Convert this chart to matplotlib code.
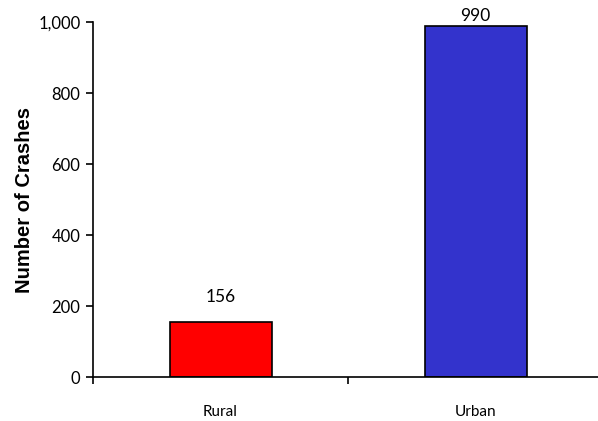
import matplotlib.pyplot as plt
from matplotlib.ticker import FuncFormatter, FixedLocator

categories = ["Rural", "Urban"]
crashes = [156, 990]
bar_colors = ["#FF0000", "#3333CC"]
label_offsets = [12, 1]

fig = plt.figure(figsize=(5.98, 4.21), dpi=100)
ax = fig.add_axes([0.1555, 0.1045, 0.853, 0.843])

x = list(range(len(categories)))
ax.bar(x, crashes, width=0.4, color=bar_colors, edgecolor="black", linewidth=1.2)

for xi, v, off in zip(x, crashes, label_offsets):
    ax.annotate(str(v), (xi, v), xytext=(0, off), textcoords="offset points",
                ha="center", va="bottom", fontsize=12.5, family="Lato")

ax.set_xlim(-0.5, 1.5)
ax.set_ylim(0, 1000)
ax.set_yticks(range(0, 1001, 200))
ax.yaxis.set_major_formatter(FuncFormatter(lambda v, p: f"{int(v):,}"))
for lab in ax.get_yticklabels():
    lab.set_family("Lato")
    lab.set_fontsize(12)

ax.set_xticks(x)
ax.set_xticklabels(categories, family="Lato", fontsize=11)
ax.tick_params(axis="x", which="major", length=0, pad=20)
ax.xaxis.set_minor_locator(FixedLocator([-0.5, 0.5, 1.5]))
ax.tick_params(axis="x", which="minor", length=5, width=1.2, direction="out")
ax.tick_params(axis="y", length=5, width=1.2, direction="out", pad=4)

ax.spines["top"].set_visible(False)
ax.spines["right"].set_visible(False)
ax.spines["left"].set_linewidth(1.2)
ax.spines["bottom"].set_linewidth(1.2)

ax.set_ylabel("Number of Crashes", fontsize=14.5, fontweight="bold",
              family="Liberation Sans", labelpad=3)

fig.savefig("out.png", dpi=100)
